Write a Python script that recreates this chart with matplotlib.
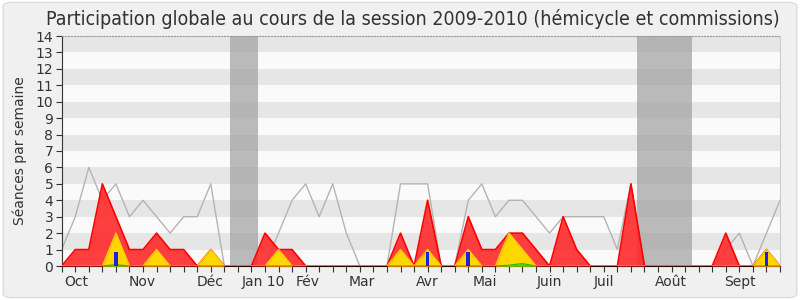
import numpy as np
import matplotlib
matplotlib.use("Agg")
import matplotlib.pyplot as plt
from matplotlib.patches import FancyBboxPatch

# Data: one value per week, session 2009-2010
total = [1, 3, 6, 4, 5, 3, 4, 3, 2, 3, 3, 5, 0, 0, 0, 0, 2, 4, 5, 3, 5, 2, 0, 0, 0, 5, 5,
         5, 0, 0, 4, 5, 3, 4, 4, 3, 2, 3, 3, 3, 3, 1, 5, 0, 0, 0, 0, 0, 0, 1, 2, 0, 2, 4]
presence = [0, 1, 1, 5, 3, 1, 1, 2, 1, 1, 0, 1, 0, 0, 0, 2, 1, 1, 0, 0, 0, 0, 0, 0, 0, 2, 0,
            4, 0, 0, 3, 1, 1, 2, 2, 1, 0, 3, 1, 0, 0, 0, 5, 0, 0, 0, 0, 0, 0, 2, 0, 0, 1, 0]
hemicycle = [0, 0, 0, 0, 2, 0, 0, 1, 0, 0, 0, 1, 0, 0, 0, 0, 1, 0, 0, 0, 0, 0, 0, 0, 0, 1, 0,
             1, 0, 0, 1, 0, 0, 2, 1, 0, 0, 0, 0, 0, 0, 0, 0, 0, 0, 0, 0, 0, 0, 0, 0, 0, 1, 0]
interventions = [0, 0, 0, 0, 0.08, 0, 0, 0, 0, 0, 0, 0, 0, 0, 0, 0, 0, 0, 0, 0, 0, 0, 0, 0, 0, 0, 0,
                 0, 0, 0, 0, 0, 0, 0.05, 0.15, 0, 0, 0, 0, 0, 0, 0, 0, 0, 0, 0, 0, 0, 0, 0, 0, 0, 0, 0]
question_weeks = [4, 27, 30, 52]
question_vals = [0.85, 0.85, 0.85, 0.85]
vacances = [(12.45, 14.5), (42.45, 46.5)]
month_labels = ["Oct", "Nov", "Déc", "Jan 10", "Fév", "Mar", "Avr", "Mai", "Juin", "Juil", "Août", "Sept"]
month_pos = [1.1, 5.95, 10.97, 14.85, 18.16, 22.14, 27.0, 31.2, 35.95, 40.0, 44.95, 50.02]

weeks = np.arange(len(total))

fig = plt.figure(figsize=(8, 3), dpi=100, facecolor="white")
fig.patches.append(FancyBboxPatch((0.004, 0.008), 0.992, 0.984, boxstyle="round,pad=0,rounding_size=0.012",
                                  transform=fig.transFigure, facecolor="#f0f0f0", edgecolor="#dcdcdc",
                                  linewidth=1, zorder=-10))
ax = fig.add_axes([61.7 / 800, 34 / 300, (780 - 61.7) / 800, 230 / 300])
ax.set_facecolor("#fafafa")

# stripes
for y in range(1, 14, 2):
    ax.axhspan(y, y + 1, color="#e6e6e6", lw=0, zorder=0)
for a, b in vacances:
    ax.axvspan(a, b, color="#a0a0a0", alpha=0.7, lw=0, zorder=1)

ax.plot(weeks, total, color="#b4b4b4", lw=1, zorder=2)
ax.fill_between(weeks, presence, color="#ff2a2a", alpha=0.9, lw=0, zorder=3)
ax.plot(weeks, presence, color="#ff0000", lw=1.2, zorder=3)
ax.fill_between(weeks, hemicycle, color="#ffd700", lw=0, zorder=4)
ax.plot(weeks, hemicycle, color="#ffcc00", lw=1, zorder=4)
ax.fill_between(weeks, interventions, color="#33dd00", lw=0, zorder=5)
ax.plot(weeks, interventions, color="#22bb00", lw=0.8, zorder=5)
ax.bar(question_weeks, question_vals, width=0.27, color="#2020e0", zorder=6)

ax.set_xlim(0, len(total) - 1)
ax.set_ylim(0, 14)
ax.set_yticks(range(0, 15))
ax.set_xticks(weeks)
ax.set_xticklabels([])
ax.tick_params(axis="x", length=4, color="#333333", width=0.8)
ax.tick_params(axis="y", length=4, color="#333333", width=0.8, labelsize=10, pad=2, labelcolor="#333333")
for lab, p in zip(month_labels, month_pos):
    ax.text(p, -0.55, lab, ha="center", va="top", fontsize=10, color="#333333")

ax.spines["left"].set_color("#333333")
ax.spines["bottom"].set_color("#330000")
ax.spines["top"].set_linestyle(":")
ax.spines["top"].set_color("#999999")
ax.spines["right"].set_color("#cccccc")
ax.set_ylabel("Séances par semaine", fontsize=10, color="#333333", labelpad=6)

fig.text(0.516, 0.937, "Participation globale au cours de la session 2009-2010 (hémicycle et commissions)",
         ha="center", va="center", fontsize=14, color="#333333", fontstretch="condensed")

fig.savefig("out.png", dpi=100, facecolor=fig.get_facecolor())
